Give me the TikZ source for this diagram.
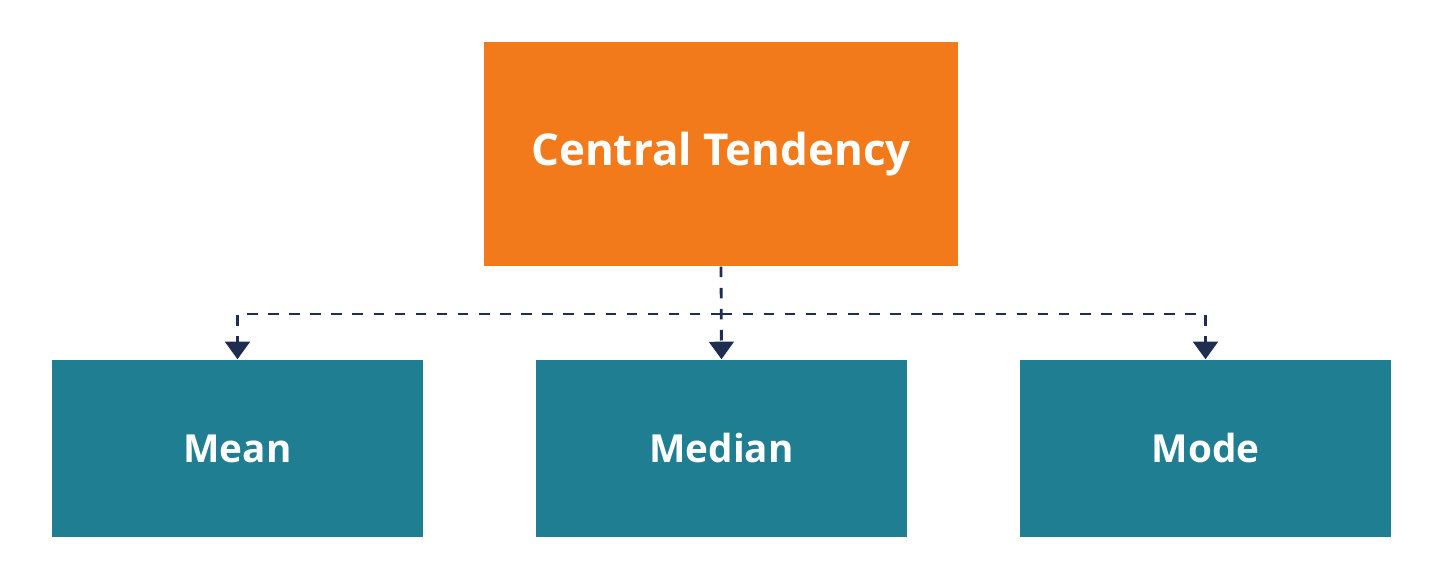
\documentclass[tikz,border=0pt]{standalone}
\usepackage{fontspec}
\setmainfont{Open Sans}
\usetikzlibrary{arrows.meta}
\definecolor{topColor}{RGB}{242,122,26}
\definecolor{leafColor}{RGB}{31,126,145}
\definecolor{lineColor}{RGB}{30,45,80}
\tikzset{
  topbox/.style={fill=topColor, minimum width=4.74cm, minimum height=2.24cm, text=white, font=\bfseries\fontsize{12.5}{15}\selectfont},
  leafbox/.style={fill=leafColor, minimum width=3.71cm, minimum height=1.77cm, text=white, font=\bfseries\fontsize{11}{13}\selectfont},
  link/.style={draw=lineColor, thick, dashed, -{Triangle[length=5pt,width=7pt]}}
}
\begin{document}
\begin{tikzpicture}
  \useasboundingbox (0,0) rectangle (14.4,-5.64);
  \node[topbox] (tend) at (7.21,-1.54) {Central Tendency};
  % Leaves
  \node[leafbox] (mean) at (2.375,-4.485) {Mean};
  \node[leafbox] (median) at (7.215,-4.485) {Median};
  \node[leafbox] (mode) at (12.055,-4.485) {Mode};
  % Links
  \coordinate (split) at (7.215,-3.14);
  \draw[link] (tend.south) -- (median.north);
  \draw[link] (split) -| (mean.north);
  \draw[link] (split) -| (mode.north);
\end{tikzpicture}
\end{document}
